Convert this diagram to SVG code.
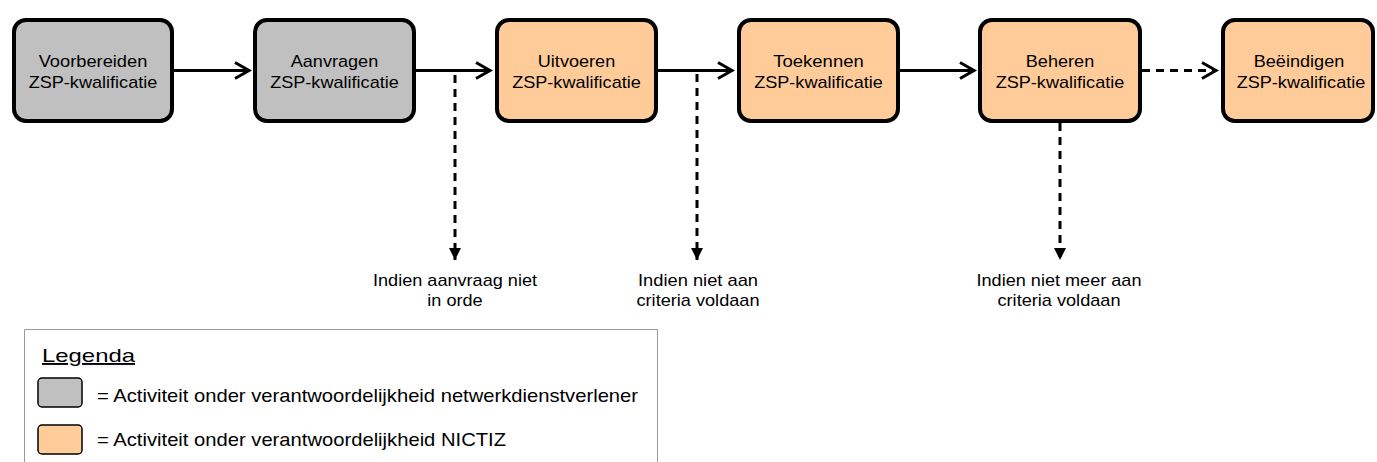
<svg xmlns="http://www.w3.org/2000/svg" width="1377" height="462" viewBox="0 0 1377 462">
<style>
.box{stroke:#000;stroke-width:4}
.grey{fill:#C0C0C0}
.orange{fill:#FFCC99}
.lbl{font-family:"Liberation Sans",Arial,sans-serif;font-size:17px;fill:#000;text-anchor:middle}
.leg{font-family:"Liberation Sans",Arial,sans-serif;font-size:19px;fill:#000}
.solid{stroke:#000;stroke-width:3;fill:none}
.dash{stroke:#000;stroke-width:3;fill:none;stroke-dasharray:8 6}
.sw{stroke:#000;stroke-width:1.5}
</style>
<defs>
<marker id="chev" markerUnits="userSpaceOnUse" viewBox="-18 -11 22 22" markerWidth="22" markerHeight="22" refX="0" refY="0" orient="auto">
<path d="M-14,-8 L0,0 L-14,8" fill="none" stroke="#000" stroke-width="3"/>
</marker>
<marker id="tri" markerUnits="userSpaceOnUse" viewBox="-13 -7 14 14" markerWidth="14" markerHeight="14" refX="0" refY="0" orient="auto">
<path d="M-12,-6 L0,0 L-12,6 Z" fill="#000"/>
</marker>
</defs>
<g id="connectors">
<line class="solid" x1="174" y1="70.5" x2="249" y2="70.5" marker-end="url(#chev)"/>
<line class="solid" x1="416" y1="70.5" x2="490" y2="70.5" marker-end="url(#chev)"/>
<line class="solid" x1="658" y1="70.5" x2="732" y2="70.5" marker-end="url(#chev)"/>
<line class="solid" x1="900" y1="70.5" x2="974" y2="70.5" marker-end="url(#chev)"/>
<line class="dash" x1="1142" y1="70.5" x2="1216" y2="70.5" marker-end="url(#chev)"/>
<line class="dash" x1="455" y1="75" x2="455" y2="260" marker-end="url(#tri)"/>
<line class="dash" x1="697" y1="74" x2="697" y2="260" marker-end="url(#tri)"/>
<line class="dash" x1="1060" y1="123" x2="1060" y2="260" marker-end="url(#tri)"/>
</g>
<g id="n1"><rect class="box grey" x="14" y="20" width="158" height="101" rx="12"/>
<text class="lbl" x="93" y="67" textLength="108.7" lengthAdjust="spacingAndGlyphs">Voorbereiden</text>
<text class="lbl" x="93" y="88" textLength="128.7" lengthAdjust="spacingAndGlyphs">ZSP-kwalificatie</text></g>
<g id="n2"><rect class="box grey" x="255" y="20" width="159" height="101" rx="12"/>
<text class="lbl" x="334.5" y="67" textLength="87.5" lengthAdjust="spacingAndGlyphs">Aanvragen</text>
<text class="lbl" x="334.5" y="88" textLength="128.7" lengthAdjust="spacingAndGlyphs">ZSP-kwalificatie</text></g>
<g id="n3"><rect class="box orange" x="497" y="20" width="159" height="101" rx="12"/>
<text class="lbl" x="576.5" y="67" textLength="77.4" lengthAdjust="spacingAndGlyphs">Uitvoeren</text>
<text class="lbl" x="576.5" y="88" textLength="128.7" lengthAdjust="spacingAndGlyphs">ZSP-kwalificatie</text></g>
<g id="n4"><rect class="box orange" x="739" y="20" width="159" height="101" rx="12"/>
<text class="lbl" x="818.5" y="67" textLength="90.6" lengthAdjust="spacingAndGlyphs">Toekennen</text>
<text class="lbl" x="818.5" y="88" textLength="128.7" lengthAdjust="spacingAndGlyphs">ZSP-kwalificatie</text></g>
<g id="n5"><rect class="box orange" x="980" y="20" width="160" height="101" rx="12"/>
<text class="lbl" x="1060" y="67" textLength="68.4" lengthAdjust="spacingAndGlyphs">Beheren</text>
<text class="lbl" x="1060" y="88" textLength="128.7" lengthAdjust="spacingAndGlyphs">ZSP-kwalificatie</text></g>
<g id="n6"><rect class="box orange" x="1223" y="20" width="150" height="101" rx="12"/>
<text class="lbl" x="1299" y="67" textLength="90.6" lengthAdjust="spacingAndGlyphs">Beëindigen</text>
<text class="lbl" x="1301" y="88" textLength="128.7" lengthAdjust="spacingAndGlyphs">ZSP-kwalificatie</text></g>
<g id="t1">
<text class="lbl" x="455" y="286" textLength="164" lengthAdjust="spacingAndGlyphs">Indien aanvraag niet</text>
<text class="lbl" x="455" y="306" textLength="55.3" lengthAdjust="spacingAndGlyphs">in orde</text></g>
<g id="t2">
<text class="lbl" x="698" y="286" textLength="120" lengthAdjust="spacingAndGlyphs">Indien niet aan</text>
<text class="lbl" x="698" y="306" textLength="123" lengthAdjust="spacingAndGlyphs">criteria voldaan</text></g>
<g id="t3">
<text class="lbl" x="1059" y="286" textLength="165" lengthAdjust="spacingAndGlyphs">Indien niet meer aan</text>
<text class="lbl" x="1059" y="306" textLength="123" lengthAdjust="spacingAndGlyphs">criteria voldaan</text></g>
<g id="legend">
<path d="M24.5,462 V329.5 H657.5 V462" fill="none" stroke="#999" stroke-width="1"/>
<text class="leg" x="42" y="362" font-size="21" textLength="93" lengthAdjust="spacingAndGlyphs" text-decoration="underline">Legenda</text>
<rect class="sw grey" x="38" y="378" width="44" height="29" rx="4"/>
<text class="leg" x="97" y="402" textLength="541" lengthAdjust="spacingAndGlyphs">= Activiteit onder verantwoordelijkheid netwerkdienstverlener</text>
<rect class="sw orange" x="38" y="425" width="44" height="29" rx="4"/>
<text class="leg" x="97" y="446" textLength="409" lengthAdjust="spacingAndGlyphs">= Activiteit onder verantwoordelijkheid NICTIZ</text>
</g>
</svg>
